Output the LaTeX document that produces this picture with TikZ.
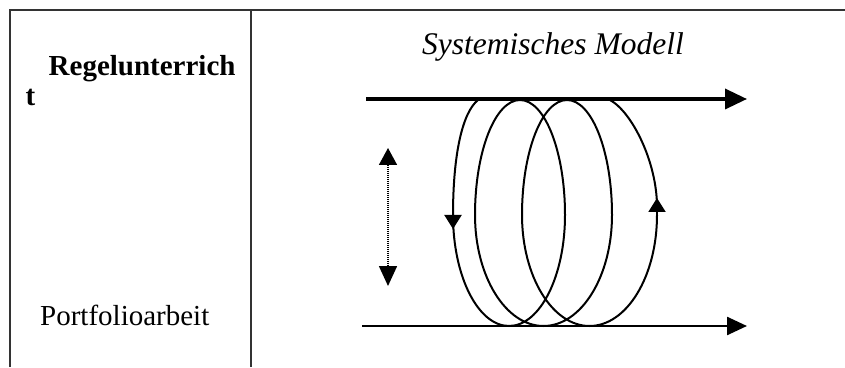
\documentclass[tikz,border=0pt]{standalone}
\usepackage{fontspec}
\setmainfont{Liberation Serif}
\usetikzlibrary{arrows.meta, positioning, calc}

\tikzset{
    frame/.style={line width=1.5pt, draw=black!80},
    loopline/.style={line width=2pt},
    looptip/.style={-{Triangle[length=14pt, width=17pt]}},
    celltext/.style={anchor=base west, inner sep=0pt},
}

\begin{document}
\begin{tikzpicture}[x=1pt, y=1pt]
    \useasboundingbox (0,0) rectangle (845,367);

    % table lines
    \draw[frame] (10,0) -- (10,357) -- (845,357);
    \draw[frame] (251,0) -- (251,357);

    % left cell
    \node[celltext, font=\bfseries\fontsize{29}{34}\selectfont] (regel) at (48.5,291) {Regelunterrich};
    \node[celltext, font=\bfseries\fontsize{29}{34}\selectfont] (regelt) at (25.5,261) {t};
    \node[celltext, font=\fontsize{29}{34}\selectfont] (portfolio) at (40,42) {Portfolioarbeit};

    % right cell
    \node[anchor=base, inner sep=0pt, font=\itshape\fontsize{31.5}{36}\selectfont] (titel) at (553,312) {Systemisches Modell};

    \coordinate (topL) at (366,268);
    \coordinate (topR) at (747,268);
    \coordinate (botL) at (362,41);
    \coordinate (botR) at (747,41);
    \draw[line width=3.5pt, -{Triangle[length=22pt, width=20pt]}] (topL) -- (topR);
    \draw[line width=2.5pt, -{Triangle[length=20pt, width=18pt]}] (botL) -- (botR);

    % dotted double arrow
    \coordinate (dotT) at (388,219);
    \coordinate (dotB) at (388,81);
    \draw[line width=1.6pt, dash pattern=on 1pt off 1pt, {Triangle[length=17pt, width=18pt]}-{Triangle[length=20pt, width=18pt]}] (dotT) -- (dotB);

    % spiral
    \coordinate (spStart) at (478,267);
    \coordinate (spEnd) at (610,267);
    \draw[loopline, looptip] (spStart) .. controls (463,255) and (453,215) .. (453,138);
    \draw[loopline] (453,152)
        arc[start angle=180, end angle=360, x radius=56pt, y radius=111pt]
        arc[start angle=0, end angle=180, x radius=45pt, y radius=115pt]
        arc[start angle=180, end angle=360, x radius=68.5pt, y radius=111pt]
        arc[start angle=0, end angle=180, x radius=45pt, y radius=115pt]
        arc[start angle=180, end angle=360, x radius=67.5pt, y radius=111pt];
    \draw[loopline, looptip] (657,152) -- (657,169);
    \draw[loopline] (657,160) .. controls (657,205) and (632,255) .. (spEnd);
\end{tikzpicture}
\end{document}
